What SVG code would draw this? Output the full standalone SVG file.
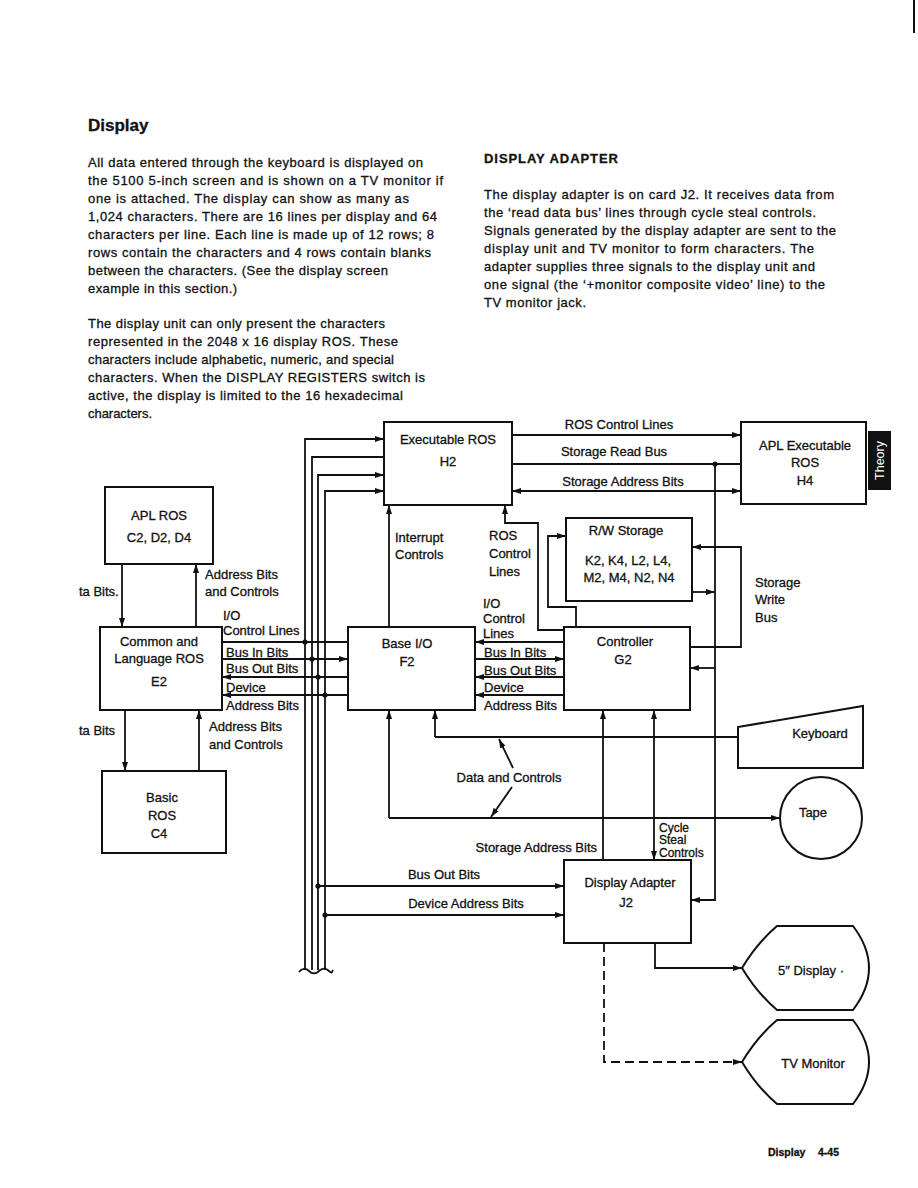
<svg xmlns="http://www.w3.org/2000/svg" width="918" height="1188" viewBox="0 0 918 1188">
<defs>
<marker id="ah" viewBox="0 0 9 6" refX="9" refY="3" markerWidth="9" markerHeight="6" markerUnits="userSpaceOnUse" orient="auto-start-reverse">
<path d="M0,0 L9,3 L0,6 Z" fill="#111"/>
</marker>
<style>
.box{fill:#fff;stroke:#111;stroke-width:2}
.ln{fill:none;stroke:#111;stroke-width:1.8}
.dash{stroke-dasharray:9 5}
.t{font-family:"Liberation Sans",Arial,Helvetica,sans-serif;font-size:13px;fill:#111;stroke:#111;stroke-width:0.3}
.c{text-anchor:middle}
.e{text-anchor:end}
.b{font-weight:bold}
.dot{fill:#111}
</style>
</defs>
<rect width="918" height="1188" fill="#fff"/>
<line x1="914" y1="0" x2="914" y2="33" stroke="#111" stroke-width="2"/>

<g id="page-text" class="t">
<text x="88" y="131" class="b" font-size="17">Display</text>
<text x="88" y="167" textLength="335" lengthAdjust="spacing">All data entered through the keyboard is displayed on</text>
<text x="88" y="185" textLength="355" lengthAdjust="spacing">the 5100 5-inch screen and is shown on a TV monitor if</text>
<text x="88" y="203" textLength="321" lengthAdjust="spacing">one is attached.  The display can show as many as</text>
<text x="88" y="221" textLength="349" lengthAdjust="spacing">1,024 characters.  There are 16 lines per display and 64</text>
<text x="88" y="239" textLength="346" lengthAdjust="spacing">characters per line.  Each line is made up of 12 rows; 8</text>
<text x="88" y="257" textLength="343" lengthAdjust="spacing">rows contain the characters and 4 rows contain blanks</text>
<text x="88" y="275" textLength="300" lengthAdjust="spacing">between the characters.  (See the display screen</text>
<text x="88" y="293" textLength="149" lengthAdjust="spacing">example in this section.)</text>
<text x="88" y="328" textLength="297" lengthAdjust="spacing">The display unit can only present the characters</text>
<text x="88" y="346" textLength="310" lengthAdjust="spacing">represented in the 2048 x 16 display ROS.  These</text>
<text x="88" y="364" textLength="306" lengthAdjust="spacing">characters include alphabetic, numeric, and special</text>
<text x="88" y="382" textLength="337" lengthAdjust="spacing">characters.  When the DISPLAY REGISTERS switch is</text>
<text x="88" y="400" textLength="315" lengthAdjust="spacing">active, the display is limited to the 16 hexadecimal</text>
<text x="88" y="418" textLength="64" lengthAdjust="spacing">characters.</text>
<text x="484" y="163" class="b" textLength="134" lengthAdjust="spacing">DISPLAY ADAPTER</text>
<text x="484" y="199" textLength="350" lengthAdjust="spacing">The display adapter is on card J2.  It receives data from</text>
<text x="484" y="217" textLength="332" lengthAdjust="spacing">the ‘read data bus’ lines through cycle steal controls.</text>
<text x="484" y="235" textLength="352" lengthAdjust="spacing">Signals generated by the display adapter are sent to the</text>
<text x="484" y="253" textLength="330" lengthAdjust="spacing">display unit and TV monitor to form characters.  The</text>
<text x="484" y="271" textLength="331" lengthAdjust="spacing">adapter supplies three signals to the display unit and</text>
<text x="484" y="289" textLength="341" lengthAdjust="spacing">one signal (the ‘+monitor composite video’ line) to the</text>
<text x="484" y="307" textLength="102" lengthAdjust="spacing">TV monitor jack.</text>
<text x="768" y="1156" class="b" font-size="10.5">Display</text>
<text x="818" y="1156" class="b" font-size="10.5">4-45</text>
</g>

<g id="theory-tab">
<rect x="868" y="431" width="23" height="59" fill="#111"/>
<text x="0" y="0" transform="translate(884,460.5) rotate(-90)" font-family="Liberation Sans, Arial, sans-serif" font-size="12.5" text-anchor="middle" fill="#fff">Theory</text>
</g>

<g id="connectors">
<path class="ln" d="M305,970 V439 H384" marker-end="url(#ah)"/>
<path class="ln" d="M312,970 V457 H384"/>
<path class="ln" d="M318,970 V475 H384" marker-end="url(#ah)"/>
<path class="ln" d="M325,970 V491 H384" marker-end="url(#ah)"/>
<path class="ln" d="M299,972 c3,-4 7,-4 10,-1 s7,3 10,0 s7,-3 10,0 s3,1 4,-1"/>
<path class="ln" d="M222,642 H348"/>
<path class="ln" d="M222,659 H348" marker-end="url(#ah)"/>
<path class="ln" d="M348,677 H222" marker-end="url(#ah)"/>
<path class="ln" d="M348,695 H222" marker-end="url(#ah)"/>
<circle class="dot" cx="305" cy="642" r="2.6"/>
<circle class="dot" cx="312" cy="659" r="2.6"/>
<circle class="dot" cx="318" cy="677" r="2.6"/>
<circle class="dot" cx="325" cy="695" r="2.6"/>
<path class="ln" d="M564,642 H475" marker-end="url(#ah)"/>
<path class="ln" d="M475,659 H564" marker-end="url(#ah)"/>
<path class="ln" d="M564,677 H475" marker-end="url(#ah)"/>
<path class="ln" d="M564,695 H475" marker-end="url(#ah)"/>
<path class="ln" d="M512,435 H741" marker-end="url(#ah)"/>
<path class="ln" d="M512,464 H741"/>
<path class="ln" d="M512,491 H741" marker-start="url(#ah)" marker-end="url(#ah)"/>
<circle class="dot" cx="715" cy="464" r="2.6"/>
<path class="ln" d="M715,464 V900 H691" marker-end="url(#ah)"/>
<path class="ln" d="M692,592 H715" marker-end="url(#ah)"/>
<path class="ln" d="M715,668 H690" marker-end="url(#ah)"/>
<path class="ln" d="M690,647 H741 V547 H692" marker-end="url(#ah)"/>
<path class="ln" d="M576,627 V607 H548 V536 H566" marker-end="url(#ah)"/>
<path class="ln" d="M564,630 H538 V523 H505 V505" marker-end="url(#ah)"/>
<path class="ln" d="M389,627 V505" marker-end="url(#ah)"/>
<path class="ln" d="M122,564 V627" marker-end="url(#ah)"/>
<path class="ln" d="M196,627 V564" marker-end="url(#ah)"/>
<path class="ln" d="M125,710 V771" marker-end="url(#ah)"/>
<path class="ln" d="M199,771 V710" marker-end="url(#ah)"/>
<path class="ln" d="M389,818 V710" marker-end="url(#ah)"/>
<path class="ln" d="M389,818 H780" marker-end="url(#ah)"/>
<path class="ln" d="M435,737 V710" marker-end="url(#ah)"/>
<path class="ln" d="M435,737 H738"/>
<path class="ln" d="M513,768 L499,739" marker-end="url(#ah)"/>
<path class="ln" d="M512,787 L491,817" marker-end="url(#ah)"/>
<path class="ln" d="M603,860 V710" marker-end="url(#ah)"/>
<path class="ln" d="M654,860 V710" marker-start="url(#ah)" marker-end="url(#ah)"/>
<path class="ln" d="M318,886 H564" marker-end="url(#ah)"/>
<path class="ln" d="M325,915 H564" marker-end="url(#ah)"/>
<circle class="dot" cx="318" cy="886" r="2.6"/>
<circle class="dot" cx="325" cy="915" r="2.6"/>
<path class="ln" d="M655,943 V968 H742" marker-end="url(#ah)"/>
<path class="ln dash" d="M604,943 V1062 H742" marker-end="url(#ah)"/>
</g>

<g id="connector-labels" class="t">
<text x="619" y="428.5" class="c">ROS Control Lines</text>
<text x="614" y="455.5" class="c">Storage Read Bus</text>
<text x="623" y="485.5" class="c">Storage Address Bits</text>
<text x="79" y="596">ta Bits.</text>
<text x="205" y="578.5">Address Bits</text>
<text x="205" y="596">and Controls</text>
<text x="223" y="619.5">I/O</text>
<text x="223" y="634.5">Control Lines</text>
<text x="226" y="656.5">Bus In Bits</text>
<text x="226" y="672.5">Bus Out Bits</text>
<text x="226" y="691.5">Device</text>
<text x="226" y="709.5">Address Bits</text>
<text x="79" y="734.5">ta Bits</text>
<text x="209" y="730.5">Address Bits</text>
<text x="209" y="748.5">and Controls</text>
<text x="395" y="541.5">Interrupt</text>
<text x="395" y="558.5">Controls</text>
<text x="489" y="539.5">ROS</text>
<text x="489" y="557.5">Control</text>
<text x="489" y="575.5">Lines</text>
<text x="483" y="607.5">I/O</text>
<text x="483" y="622.5">Control</text>
<text x="483" y="637.5">Lines</text>
<text x="484" y="656.5">Bus In Bits</text>
<text x="484" y="674.5">Bus Out Bits</text>
<text x="484" y="691.5">Device</text>
<text x="484" y="709.5">Address Bits</text>
<text x="755" y="586.5">Storage</text>
<text x="755" y="603.5">Write</text>
<text x="755" y="621.5">Bus</text>
<text x="509" y="781.5" class="c">Data and Controls</text>
<text x="597" y="851.5" class="e">Storage Address Bits</text>
<text x="659" y="831.5" font-size="12">Cycle</text>
<text x="659" y="844" font-size="12">Steal</text>
<text x="659" y="856.5" font-size="12">Controls</text>
<text x="444" y="878.5" class="c">Bus Out Bits</text>
<text x="466" y="907.5" class="c">Device Address Bits</text>
</g>

<g id="node-h2">
<rect class="box" x="384" y="422" width="128" height="83"/>
<text class="t c" x="448" y="443.5">Executable ROS</text>
<text class="t c" x="448" y="465.5">H2</text>
</g>
<g id="node-h4">
<rect class="box" x="741" y="422" width="125" height="82"/>
<text class="t c" x="805" y="450">APL Executable</text>
<text class="t c" x="805" y="467">ROS</text>
<text class="t c" x="805" y="485">H4</text>
</g>
<g id="node-apl-ros">
<rect class="box" x="105" y="487" width="108" height="77"/>
<text class="t c" x="159" y="519.5">APL ROS</text>
<text class="t c" x="159" y="541.5">C2, D2, D4</text>
</g>
<g id="node-rw-storage">
<rect class="box" x="566" y="518" width="126" height="83"/>
<text class="t c" x="626" y="534.5">R/W Storage</text>
<text class="t c" x="628" y="564.5">K2, K4, L2, L4,</text>
<text class="t c" x="629" y="581.5">M2, M4, N2, N4</text>
</g>
<g id="node-e2">
<rect class="box" x="100" y="627" width="122" height="83"/>
<text class="t c" x="159" y="645.5">Common and</text>
<text class="t c" x="159" y="662.8">Language ROS</text>
<text class="t c" x="159" y="685.5">E2</text>
</g>
<g id="node-f2">
<rect class="box" x="348" y="627" width="127" height="83"/>
<text class="t c" x="407" y="647.5">Base I/O</text>
<text class="t c" x="407" y="665.5">F2</text>
</g>
<g id="node-g2">
<rect class="box" x="564" y="627" width="126" height="83"/>
<text class="t c" x="625" y="645.5">Controller</text>
<text class="t c" x="623" y="663.5">G2</text>
</g>
<g id="node-basic-ros">
<rect class="box" x="102" y="771" width="124" height="82"/>
<text class="t c" x="162" y="801.5">Basic</text>
<text class="t c" x="162" y="819.5">ROS</text>
<text class="t c" x="159" y="837.5">C4</text>
</g>
<g id="node-keyboard">
<polygon class="box" points="738,727 863,706 863,768 738,768"/>
<text class="t c" x="820" y="737.5">Keyboard</text>
</g>
<g id="node-tape">
<circle class="box" cx="821" cy="818" r="41"/>
<text class="t c" x="813" y="816.5">Tape</text>
</g>
<g id="node-j2">
<rect class="box" x="564" y="860" width="127" height="83"/>
<text class="t c" x="630" y="886.5">Display Adapter</text>
<text class="t c" x="626" y="906.5">J2</text>
</g>
<g id="node-5in-display">
<path class="box" d="M742,968 Q757,943 777,926 H853 Q885,968 853,1010 H777 Q757,993 742,968 Z"/>
<text class="t c" x="811" y="974.5">5″ Display ·</text>
</g>
<g id="node-tv-monitor">
<path class="box" d="M742,1062 Q757,1037 777,1020 H853 Q885,1062 853,1104 H777 Q757,1087 742,1062 Z"/>
<text class="t c" x="813" y="1067.5">TV Monitor</text>
</g>
</svg>
